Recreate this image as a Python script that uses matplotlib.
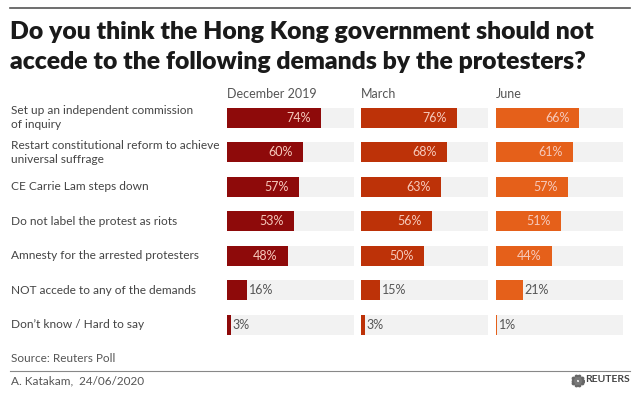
import numpy as np
import matplotlib
matplotlib.use("Agg")
import matplotlib.pyplot as plt
from matplotlib.transforms import blended_transform_factory

#%%
# data
categories = [
    "Set up an independent commission\nof inquiry",
    "Restart constitutional reform to achieve\nuniversal suffrage",
    "CE Carrie Lam steps down",
    "Do not label the protest as riots",
    "Amnesty for the arrested protesters",
    "NOT accede to any of the demands",
    "Don\u2019t know / Hard to say",
]
periods = ["December 2019", "March", "June"]
dec_2019 = [74, 60, 57, 53, 48, 16, 3]
march = [76, 68, 63, 56, 50, 15, 3]
june = [66, 61, 57, 51, 44, 21, 1]
series = [dec_2019, march, june]
colors = ["#8e0a0a", "#bd3208", "#e5601a"]

#%%
W, H = 640, 394
fig = plt.figure(figsize=(W / 100, H / 100), dpi=100)
plt.rcParams["font.family"] = ["Lato", "DejaVu Sans"]

def fx(px):
    return px / W

def fy(py):
    return 1 - py / H

# top rule + title
fig.add_artist(plt.Line2D([fx(10), fx(630)], [fy(8), fy(8)], color="#555555", lw=1.2))
fig.text(fx(10), fy(32), "Do you think the Hong Kong government should not",
         fontsize=17.8, fontweight="heavy", color="#1a1a1a", va="center", ha="left")
fig.text(fx(10), fy(62), "accede to the following demands by the protesters?",
         fontsize=17.8, fontweight="heavy", color="#1a1a1a", va="center", ha="left")

# panel geometry (pixels)
lefts = [227, 361, 496]
scale = 126.5  # px per 100%
row0, step = 117.7, 34.5
n = len(categories)
top = row0 - step / 2
bottom = row0 + step * (n - 1) + step / 2

axes = []
for k, (vals, col) in enumerate(zip(series, colors)):
    ax = fig.add_axes([fx(lefts[k]), fy(bottom), scale / W, (bottom - top) / H])
    y = np.arange(n)
    ax.barh(y, [100] * n, height=0.58, color="#f2f2f2", zorder=1)
    ax.barh(y, vals, height=0.58, color=col, zorder=2)
    for yi, v in zip(y, vals):
        if v >= 30:
            ax.text(v - 8, yi, f"{v}%", ha="right", va="center",
                    fontsize=9, color="#f6c9bb", zorder=3)
        else:
            ax.text(v + 1.5, yi, f"{v}%", ha="left", va="center",
                    fontsize=9, color="#555555", zorder=3)
    ax.set_xlim(0, 100)
    ax.set_ylim(n - 0.5, -0.5)
    ax.axis("off")
    fig.text(fx(lefts[k]), fy(94), periods[k], fontsize=9, color="#555555",
             ha="left", va="center")
    axes.append(ax)

# category labels
tr = blended_transform_factory(fig.transFigure, axes[0].transData)
for i, c in enumerate(categories):
    axes[0].text(fx(11), i, c, transform=tr, ha="left", va="center",
                 fontsize=8.6, color="#444444", linespacing=1.35)

# footer
fig.text(fx(11), fy(359), "Source: Reuters Poll", fontsize=8.5, color="#555555", va="center")
fig.add_artist(plt.Line2D([fx(10), fx(630)], [fy(371), fy(371)], color="#888888", lw=0.8))
fig.text(fx(11), fy(381), "A. Katakam,  24/06/2020", fontsize=8.5, color="#555555", va="center")
fig.text(fx(630), fy(380), "REUTERS", fontsize=7.5, fontweight="bold", color="#444444",
         ha="right", va="center")
# small dotted logo
ang = np.linspace(0, 2 * np.pi, 10, endpoint=False)
logo = fig.add_axes([fx(571), fy(387), 13 / W, 13 / H])
logo.scatter(np.cos(ang), np.sin(ang), s=3, color="#666666")
logo.scatter(0.5 * np.cos(ang + 0.3), 0.5 * np.sin(ang + 0.3), s=2, color="#777777")
logo.set_xlim(-1.3, 1.3)
logo.set_ylim(-1.3, 1.3)
logo.axis("off")

fig.savefig("out.png", dpi=100, facecolor="white")
